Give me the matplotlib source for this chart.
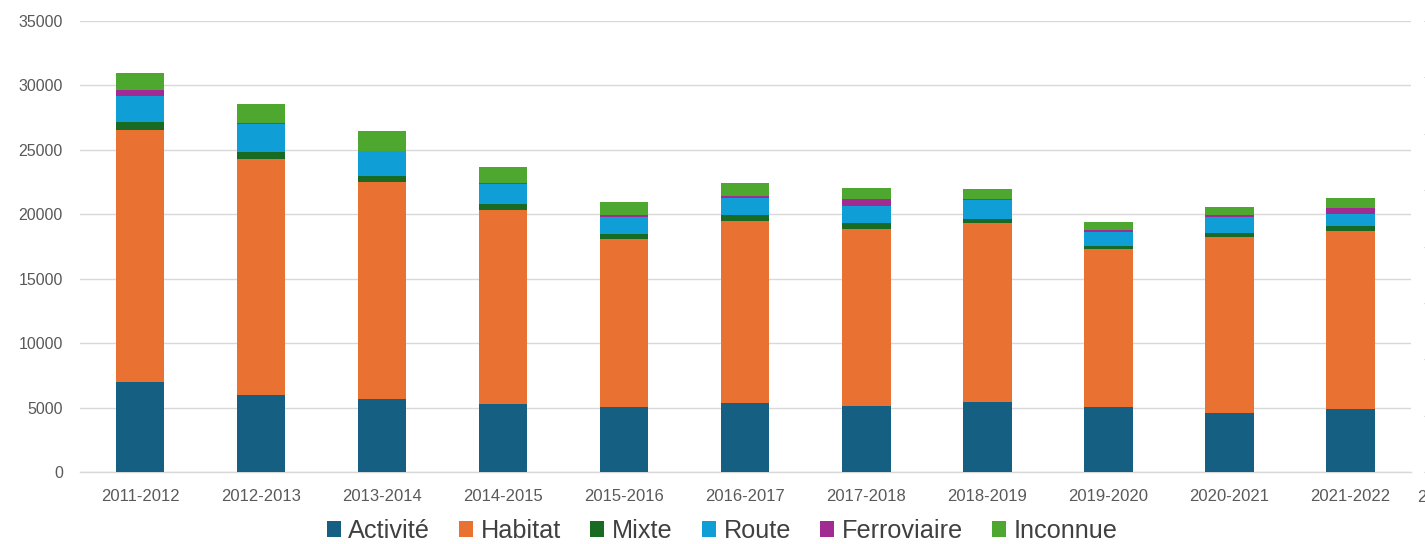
import matplotlib
matplotlib.use("Agg")
import matplotlib.pyplot as plt
from matplotlib.patches import Patch
import numpy as np

periods = ["2011-2012", "2012-2013", "2013-2014", "2014-2015", "2015-2016",
           "2016-2017", "2017-2018", "2018-2019", "2019-2020", "2020-2021",
           "2021-2022"]

activite    = [7000, 6000, 5650, 5300, 5050, 5350, 5100, 5450, 5050, 4600, 4900]
habitat     = [19540, 18290, 16830, 15030, 13030, 14130, 13760, 13900, 12260, 13610, 13800]
mixte       = [600, 570, 490, 470, 410, 465, 465, 310, 260, 360, 390]
route       = [2060, 2120, 1915, 1550, 1320, 1345, 1345, 1450, 1085, 1240, 960]
ferroviaire = [420, 80, 50, 50, 130, 130, 540, 80, 130, 130, 410]
inconnue    = [1320, 1470, 1555, 1245, 1030, 985, 805, 775, 645, 645, 830]

series = [
    ("Activité", activite, "#156082"),
    ("Habitat", habitat, "#E97132"),
    ("Mixte", mixte, "#196B24"),
    ("Route", route, "#0F9ED5"),
    ("Ferroviaire", ferroviaire, "#A02B93"),
    ("Inconnue", inconnue, "#4EA72E"),
]

plt.rcParams["font.family"] = ["Liberation Sans", "DejaVu Sans"]

fig = plt.figure(figsize=(14.25, 5.44), dpi=100)
ax = fig.add_axes([79.5 / 1425, 1 - 472 / 544, (1411 - 79.5) / 1425, (472 - 21) / 544])

x = np.arange(len(periods))
bottom = np.zeros(len(periods))
for name, vals, col in series:
    vals = np.array(vals, dtype=float)
    ax.bar(x, vals, width=0.40, bottom=bottom, color=col, label=name,
           zorder=3, linewidth=0)
    bottom += vals

ax.set_xlim(-0.5, len(periods) - 0.5)
ax.set_ylim(0, 35000)
ax.set_yticks(np.arange(0, 35001, 5000))
ax.set_xticks(x)
ax.set_xticklabels(periods)
ax.grid(axis="y", color="#D9D9D9", linewidth=1.0, zorder=0)
for s in ["top", "right", "left"]:
    ax.spines[s].set_visible(False)
ax.spines["bottom"].set_color("#D9D9D9")
ax.spines["bottom"].set_linewidth(1.0)
ax.tick_params(axis="both", length=0, colors="#595959")
ax.tick_params(axis="y", pad=12, labelsize=11.5)
ax.tick_params(axis="x", pad=12, labelsize=12)

# secondary axis: tick marks only
ax2 = ax.twinx()
ax2.set_ylim(0, 8)
ax2.set_yticks(np.arange(0, 9, 1))
ax2.spines["right"].set_position(("outward", 9))
for s in ["top", "right", "left", "bottom"]:
    ax2.spines[s].set_color("none")
ax2.tick_params(axis="y", length=6, color="#BFBFBF", labelright=False)

fig.text(1417 / 1425, 1 - 497 / 544, "2", color="#595959", fontsize=12,
         ha="left", va="center")

handles = [Patch(facecolor=c, edgecolor="none", label=n) for n, _, c in series]
fig.legend(handles=handles, loc="center", bbox_to_anchor=(722 / 1425, 1 - 531 / 544),
           ncol=6, frameon=False, fontsize=18.2, handlelength=0.56, handleheight=0.56,
           handletextpad=0.3, columnspacing=1.15, labelcolor="#404040",
           borderaxespad=0, borderpad=0)

fig.savefig("out.png", dpi=100)
